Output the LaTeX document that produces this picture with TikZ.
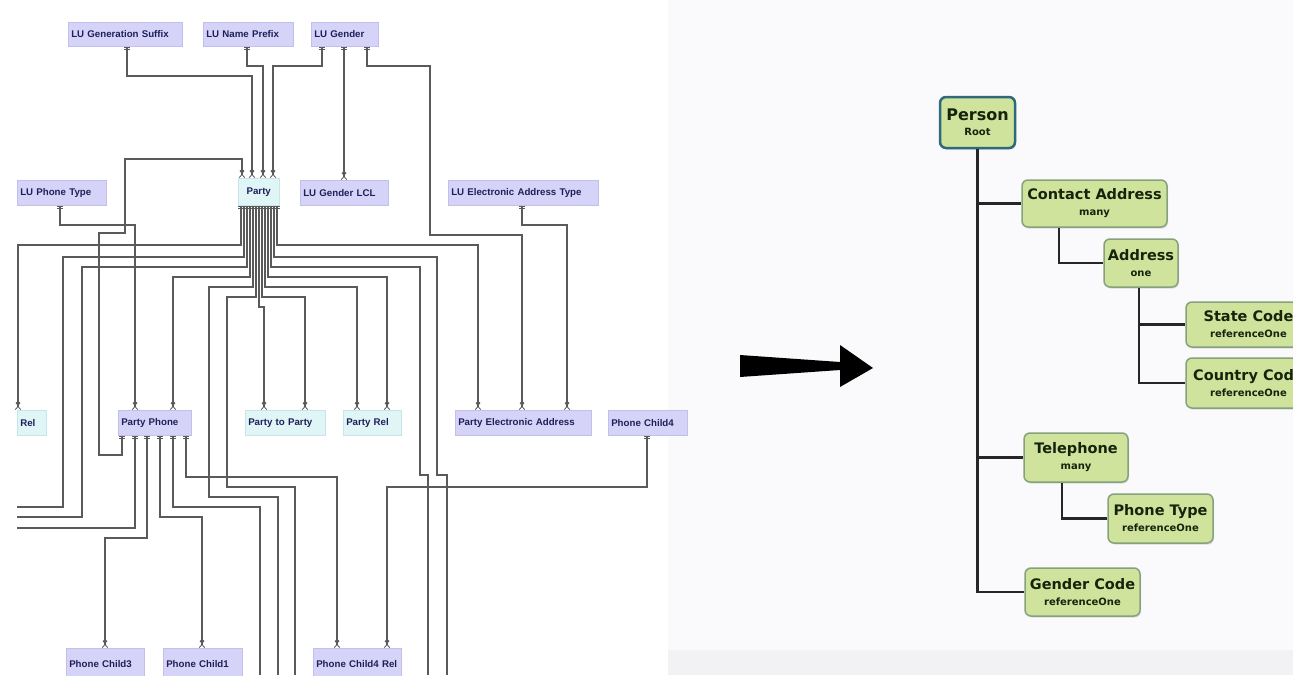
\documentclass[tikz,border=0pt]{standalone}
\usepackage{fontspec}
\setmainfont{Liberation Sans}
\newfontfamily\dvs{DejaVu Sans}
\usetikzlibrary{arrows.meta,shadows}
\definecolor{lav}{HTML}{D6D3F9}
\definecolor{lavline}{HTML}{C3BFEC}
\definecolor{aqua}{HTML}{E0F6F6}
\definecolor{aqualine}{HTML}{C9E5EA}
\definecolor{navy}{HTML}{1F1F58}
\definecolor{wirec}{HTML}{5A5A5A}
\definecolor{leaf}{HTML}{CFE39D}
\definecolor{leafline}{HTML}{86A27C}
\definecolor{rootline}{HTML}{2F6A7A}
\definecolor{ink}{HTML}{17240C}
\definecolor{panel}{HTML}{FAFAFC}
\definecolor{strip}{HTML}{F2F2F5}
\newcommand\lufont{\fontsize{9.7}{11}\selectfont\bfseries}
\newcommand\bignm{\dvs\bfseries\fontsize{14.5}{15}\selectfont}
\newcommand\subnm{\dvs\bfseries\fontsize{10}{11}\selectfont}
\tikzset{
  ione/.tip={Bar[width=5.5pt,line width=.8pt,sep=1.4pt]Bar[width=5.5pt,line width=.8pt]},
  imany/.tip={Circle[open,length=4.5pt,width=4.5pt,line width=.8pt,sep=.6pt]Straight Barb[reversed,length=3pt,width=5.5pt,line width=.8pt]}}

\begin{document}
\begin{tikzpicture}[x=1pt,y=-1pt,
    tbl/.style={fill=lav,draw=lavline,line width=.5pt,anchor=north west,inner xsep=3pt,inner ysep=0pt,
      minimum height=25pt,text width=#1,align=left,font=\lufont,text=navy},
    rel/.style={tbl=#1,fill=aqua,draw=aqualine},
    wire/.style={draw=wirec,line width=1.1pt},
    leafbox/.style={rounded corners=6pt,fill=leaf,draw=leafline,line width=1.5pt,align=center,text=ink,
      inner sep=2pt,drop shadow={opacity=.25,shadow xshift=1pt,shadow yshift=-1.5pt}},
    rootbox/.style={leafbox,draw=rootline,line width=2.5pt},
    tree/.style={draw=black!85,line width=2.6pt}]
    %
    \useasboundingbox (0,0) rectangle (1293,675);
    \clip (0,0) rectangle (1293,675);
    \fill[panel] (668,0) rectangle (1293,675);
    \fill[strip] (668,650) rectangle (1293,675);
    %
    \node[tbl=108pt,minimum height=24pt] (gs) at (68,22) {LU Generation Suffix};
    \node[tbl=84pt,minimum height=24pt] (np) at (203,22) {LU Name Prefix};
    \node[tbl=61pt,minimum height=24pt] (g) at (311,22) {LU Gender};
    \node[tbl=83pt] (pt) at (17,180) {LU Phone Type};
    \node[rel=35pt,align=center,minimum height=27pt] (p) at (238,178) {Party};
    \node[tbl=82pt] (gl) at (300,180) {LU Gender LCL};
    \node[tbl=144pt] (eat) at (448,180) {LU Electronic Address Type};
    \node[rel=23pt] (r) at (17,410) {Rel};
    \node[tbl=67pt] (pp) at (118,410) {Party Phone};
    \node[rel=74pt] (ptp) at (245,410) {Party to Party};
    \node[rel=52pt] (pr) at (343,410) {Party Rel};
    \node[tbl=130pt] (pea) at (455,410) {Party Electronic Address};
    \node[tbl=73pt] (pc4) at (608,410) {Phone Child4};
    \node[tbl=72pt,minimum height=32pt] (pc3) at (66,648) {Phone Child3};
    \node[tbl=73pt,minimum height=32pt] (pc1) at (163,648) {Phone Child1};
    \node[tbl=82pt,minimum height=32pt] (pc4r) at (313,648) {Phone Child4 Rel};
    %
    \coordinate (e1) at (17,507);
    \coordinate (e2) at (17,517);
    \coordinate (e3) at (278,675);
    \coordinate (e4) at (295,675);
    \coordinate (e5) at (428,675);
    \coordinate (e6) at (447,675);
    \coordinate (e7) at (17,528);
    \coordinate (e8) at (260,675);
    %
    \draw[wire,{ione}-{imany}] (127,0 |- gs.south) |- (252,76) -- (252,0 |- p.north);
    \draw[wire,{ione}-{imany}] (247,0 |- np.south) |- (263,66) -- (263,0 |- p.north);
    \draw[wire,{ione}-{imany}] (322,0 |- g.south) |- (273,66) -- (273,0 |- p.north);
    \draw[wire,{ione}-{imany}] (344,0 |- g.south) -- (344,0 |- gl.north);
    \draw[wire,{ione}-{imany}] (367,0 |- g.south) |- (430,66) |- (522,235) -- (522,0 |- pea.north);
    \draw[wire,{ione}-{imany}] (522,0 |- eat.south) |- (567,225) -- (567,0 |- pea.north);
    \draw[wire,{ione}-{imany}] (122,0 |- pp.south) |- (99,455) |- (125,233) |- (242,159) -- (242,0 |- p.north);
    \draw[wire,{ione}-{imany}] (60,0 |- pt.south) |- (135,225) -- (135,0 |- pp.north);
    %
    \draw[wire,{ione}-{imany}] (241,0 |- p.south) |- (18,245) -- (18,0 |- r.north);
    \draw[wire,{ione}-] (244,0 |- p.south) |- (63,257) |- (e1);
    \draw[wire,{ione}-] (247,0 |- p.south) |- (82,267) |- (e2);
    \draw[wire,{ione}-{imany}] (250,0 |- p.south) |- (173,277) -- (173,0 |- pp.north);
    \draw[wire,{ione}-] (253,0 |- p.south) |- (209,287) |- (278,497) -- (e3);
    \draw[wire,{ione}-] (256,0 |- p.south) |- (227,297) |- (295,487) -- (e4);
    \draw[wire,{ione}-{imany}] (259,0 |- p.south) |- (264,307) -- (264,0 |- ptp.north);
    \draw[wire,{ione}-{imany}] (262,0 |- p.south) |- (305,297) -- (305,0 |- ptp.north);
    \draw[wire,{ione}-{imany}] (265,0 |- p.south) |- (357,287) -- (357,0 |- pr.north);
    \draw[wire,{ione}-{imany}] (268,0 |- p.south) |- (387,277) -- (387,0 |- pr.north);
    \draw[wire,{ione}-] (271,0 |- p.south) |- (420,267) |- (428,475) -- (e5);
    \draw[wire,{ione}-] (274,0 |- p.south) |- (437,257) |- (447,475) -- (e6);
    \draw[wire,{ione}-{imany}] (277,0 |- p.south) |- (478,245) -- (478,0 |- pea.north);
    %
    \draw[wire,{ione}-] (135,0 |- pp.south) |- (e7);
    \draw[wire,{ione}-{imany}] (147,0 |- pp.south) |- (105,538) -- (105,0 |- pc3.north);
    \draw[wire,{ione}-{imany}] (160,0 |- pp.south) |- (202,517) -- (202,0 |- pc1.north);
    \draw[wire,{ione}-] (173,0 |- pp.south) |- (260,507) -- (e8);
    \draw[wire,{ione}-{imany}] (186,0 |- pp.south) |- (337,477) -- (337,0 |- pc4r.north);
    \draw[wire,{ione}-{imany}] (647,0 |- pc4.south) |- (387,487) -- (387,0 |- pc4r.north);
    %
    \fill (740,355) -- (840,362) -- (840,345) -- (873,368) -- (840,387) -- (840,370) -- (740,377) -- cycle;
    %
    \node[rootbox,minimum width=75pt,minimum height=51pt] (per) at (977.5,122.5) {\bignm\fontsize{16}{17}\selectfont Person\\[3pt]\subnm Root};
    \node[leafbox,minimum width=145pt,minimum height=47pt] (ca) at (1094.5,203.5) {\bignm Contact Address\\[4pt]\subnm many};
    \node[leafbox,minimum width=74pt,minimum height=48pt] (ad) at (1141,263) {\bignm Address\\[4pt]\subnm one};
    \node[leafbox,minimum width=125pt,minimum height=45pt] (sc) at (1248.5,324.5) {\bignm State Code\\[4pt]\subnm referenceOne};
    \node[leafbox,minimum width=125pt,minimum height=50pt] (cc) at (1248.5,383) {\bignm Country Code\\[4pt]\subnm referenceOne};
    \node[leafbox,minimum width=104pt,minimum height=49pt] (tel) at (1076,457.5) {\bignm Telephone\\[4pt]\subnm many};
    \node[leafbox,minimum width=105pt,minimum height=49pt] (ptype) at (1160.5,518.5) {\bignm Phone Type\\[4pt]\subnm referenceOne};
    \node[leafbox,minimum width=115pt,minimum height=48pt] (gc) at (1082.5,592) {\bignm Gender Code\\[4pt]\subnm referenceOne};
    %
    \draw[tree] (per.south) |- (ca.west);
    \draw[tree] (per.south) |- (tel.west);
    \draw[tree] (per.south) |- (gc.west);
    \draw[tree] (1059,0 |- ca.south) |- (ad.west);
    \draw[tree] (1139,0 |- ad.south) |- (sc.west);
    \draw[tree] (1139,0 |- ad.south) |- (cc.west);
    \draw[tree] (1062,0 |- tel.south) |- (ptype.west);
    %
\end{tikzpicture}
\end{document}
